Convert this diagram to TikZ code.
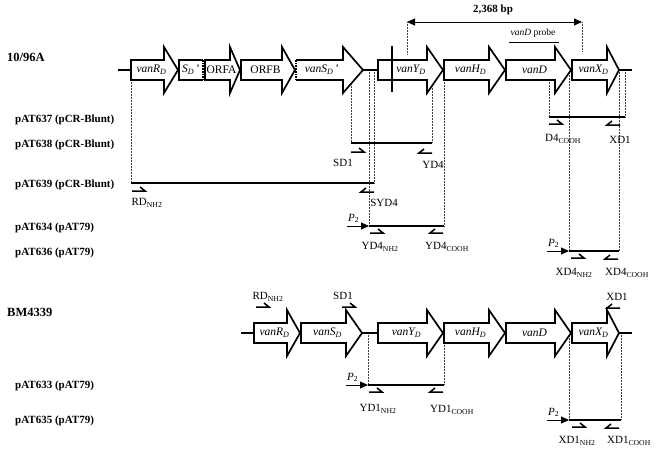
\documentclass[tikz,border=0pt]{standalone}
\usepackage{fontspec}
\setmainfont{Liberation Serif}
\usetikzlibrary{arrows.meta,positioning}

\begin{document}
\begin{tikzpicture}[
    x=1pt, y=-1pt,
    gene/.style={draw, line width=1.7pt, fill=white, line join=miter},
    genetext/.style={font=\fontsize{11.5}{13}\selectfont\itshape, inner sep=0pt},
    rowlabel/.style={anchor=west, font=\fontsize{11}{13}\selectfont\bfseries, inner sep=0pt},
    strain/.style={anchor=west, font=\fontsize{12.5}{14}\selectfont\bfseries, inner sep=0pt},
    construct/.style={line width=1.7pt},
    guide/.style={densely dotted, line width=0.5pt, black!75},
    primer/.style={line width=1.5pt, line join=miter},
    plab/.style={font=\fontsize{11}{13}\selectfont, inner sep=0pt},
    promoter/.style={line width=1pt, -{Triangle[length=8pt,width=7pt]}}
]
    \useasboundingbox (0,0) rectangle (658,453);

    % Row labels
    \node[strain] (s1096) at (7,57) {10/96A};
    \node[strain] (s4339) at (7,312) {BM4339};
    \foreach \id/\y/\txt in {r637/120/pAT637 (pCR-Blunt), r638/145/pAT638 (pCR-Blunt),
        r639/185/pAT639 (pCR-Blunt), r634/228/pAT634 (pAT79), r636/253/pAT636 (pAT79),
        r633/386/pAT633 (pAT79), r635/421/pAT635 (pAT79)} {
        \node[rowlabel] (\id) at (15,\y) {\txt};
    }

    % Dotted guide lines (drawn first, genes on top)
    \foreach \x/\ya/\yb in {549/80/117, 625/70/117, 351/84/143, 432/86/143, 131/80/183,
        374/70/183, 369/70/226, 444/80/226, 569/73/251, 619/70/251, 407/22/55, 582/22/52,
        368/333/385, 444/343/385, 569/336/420, 621/333/420} {
        \draw[guide] (\x,\ya) -- (\x,\yb);
    }

    % Backbone lines
    \draw[gene] (118,70) -- (131,70);
    \draw[gene] (363,70) -- (378,70);
    \draw[gene] (619,70) -- (632,70);
    \draw[gene] (241,333) -- (254,333);
    \draw[gene] (362,333) -- (378,333);
    \draw[gene] (619,333) -- (632,333);

    % Gene arrows
    \foreach \id/\xa/\xh/\xt/\y/\lab in {
        tR/131/164/178/70/vanR\textsubscript{D},
        tA/205/230/240/70/\textup{ORFA},
        tB/241/282/295/70/\textup{ORFB},
        tY/378/427/443/70/{},
        tH/444/489/505/70/vanH\textsubscript{D},
        tD/506/555/571/70/vanD,
        tX/572/607/619/70/vanX\textsubscript{D},
        bR/254/287/300/333/vanR\textsubscript{D},
        bS/301/346/362/333/vanS\textsubscript{D},
        bY/378/427/443/333/vanY\textsubscript{D},
        bH/444/489/505/333/vanH\textsubscript{D},
        bD/506/555/571/333/vanD,
        bX/572/607/619/333/vanX\textsubscript{D}} {
        \draw[gene] (\xa,\y-10) -- (\xh,\y-10) -- (\xh,\y-23) -- (\xt,\y)
            -- (\xh,\y+23) -- (\xh,\y+10) -- (\xa,\y+10) -- cycle;
        \node[genetext] (\id) at ({(\xa+\xh)/2+4},\y) {\lab};
    }
    \node[genetext] (tYlab) at (411,70) {vanY\textsubscript{D}};

    % Truncated genes with dotted ends
    \fill[white] (179,60) rectangle (203,80);
    \draw[gene] (203,60) -- (179,60) -- (179,80) -- (203,80);
    \draw[line width=1.7pt, densely dotted] (203,60) -- (203,80);
    \node[genetext] (tSp) at (191,70) {S\textsubscript{D}\,\textup{'}};
    \draw[gene] (296,60) -- (343,60) -- (343,47) -- (363,70) -- (343,93)
        -- (343,80) -- (296,80);
    \draw[line width=1.7pt, densely dotted] (296,60) -- (296,80);
    \node[genetext] (tS) at (322,70) {vanS\textsubscript{D}\,\textup{'}};
    \draw[line width=1.7pt] (392,46) -- (392,92);

    % Construct lines
    \foreach \id/\xa/\xb/\y in {c637/549/625/117, c638/351/432/143, c639/131/374/183,
        c634/369/444/226, c636/569/619/251, c633/368/444/385, c635/569/621/420} {
        \coordinate (\id-a) at (\xa,\y);
        \coordinate (\id-b) at (\xb,\y);
        \draw[construct] (\id-a) -- (\id-b);
    }

    % P2 promoters
    \foreach \id in {c634, c636, c633, c635} {
        \coordinate[left=22pt of \id-a] (\id-p);
        \draw[promoter] (\id-p) -- (\id-a);
        \node[plab, font=\fontsize{11}{13}\selectfont\itshape, above right=3pt and 1pt of \id-p]
            (\id-pl) {P\textsubscript{\upshape 2}};
    }

    % Primers pointing right
    \foreach \x/\y in {549/124, 351/152, 132/191, 370/233, 571/258, 256/307, 342/307,
        369/392, 572/427} {
        \draw[primer] (\x,\y) -- (\x+13,\y) -- (\x+8,\y-4);
    }
    % Primers pointing left
    \foreach \x/\y in {620/125, 432/153, 374/192, 443/233, 618/259, 620/308, 443/392,
        619/428} {
        \draw[primer] (\x,\y) -- (\x-13,\y) -- (\x-8,\y-4);
    }

    % Primer labels
    \foreach \id/\x/\y/\txt in {
        lD4/563/139/D4\textsubscript{COOH},
        lXD1/620/140/XD1,
        lSD1/343/163/SD1,
        lYD4/433/165/YD4,
        lRD/147/203/RD\textsubscript{NH2},
        lSYD4/384/203/SYD4,
        lYD4n/380/247/YD4\textsubscript{NH2},
        lYD4c/447/247/YD4\textsubscript{COOH},
        lXD4n/574/273/XD4\textsubscript{NH2},
        lXD4c/627/273/XD4\textsubscript{COOH},
        lRDb/268/297/RD\textsubscript{NH2},
        lSD1b/343/296/SD1,
        lXD1b/617/297/XD1,
        lYD1n/378/409/YD1\textsubscript{NH2},
        lYD1c/452/410/YD1\textsubscript{COOH},
        lXD1n/577/441/XD1\textsubscript{NH2},
        lXD1c/629/441/XD1\textsubscript{COOH}} {
        \node[plab] (\id) at (\x,\y) {\txt};
    }

    % Size of the sequenced region and probe
    \coordinate (bpL) at (407,22);
    \coordinate (bpR) at (582,22);
    \draw[line width=1pt, {Triangle[length=8pt,width=7pt]}-{Triangle[length=8pt,width=7pt]}] (bpL) -- (bpR);
    \node[plab, font=\fontsize{11}{13}\selectfont\bfseries] (bp) at (493,10) {2,368 bp};
    \node[plab, font=\fontsize{9.5}{11}\selectfont] (probe) at (533,33) {\textit{vanD} probe};
    \coordinate (prL) at (509,42);
    \coordinate (prR) at (559,42);
    \draw[line width=1pt] (prL) -- (prR);

\end{tikzpicture}
\end{document}
